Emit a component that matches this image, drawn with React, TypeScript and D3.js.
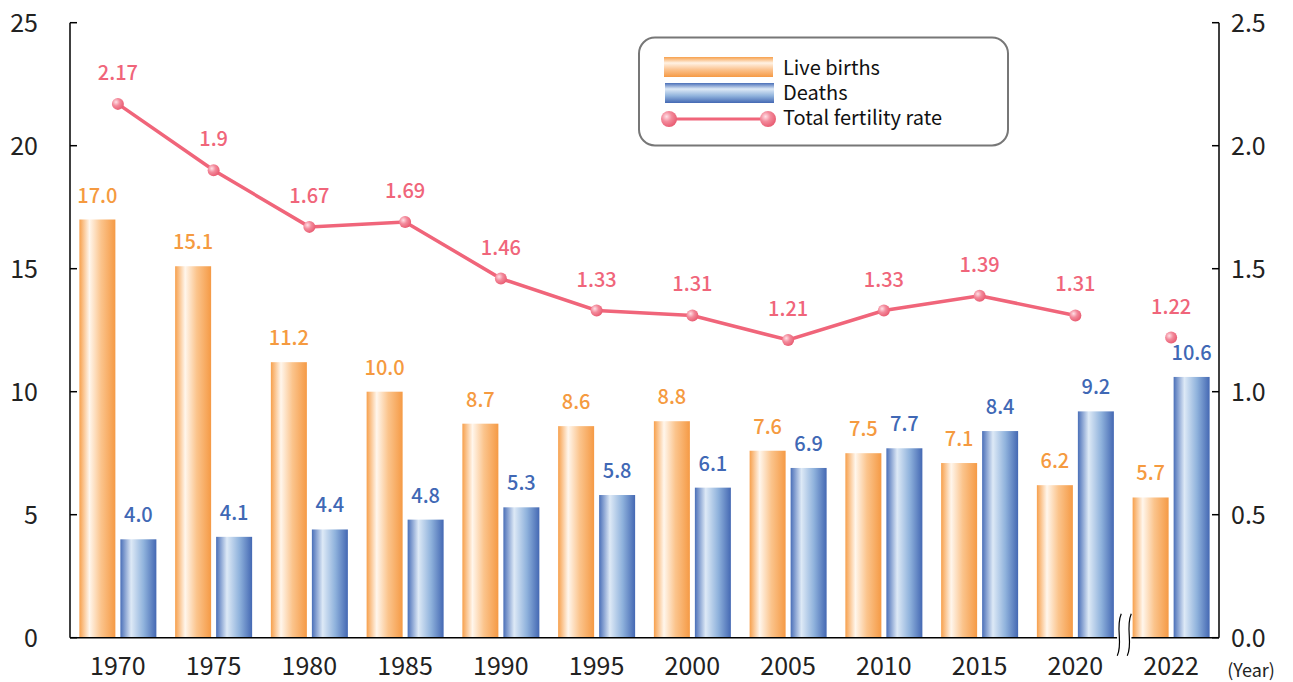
import React from "react";
import * as d3 from "d3";

const years = ["1970","1975","1980","1985","1990","1995","2000","2005","2010","2015","2020","2022"];
const liveBirths = [17.0,15.1,11.2,10.0,8.7,8.6,8.8,7.6,7.5,7.1,6.2,5.7];
const deaths = [4.0,4.1,4.4,4.8,5.3,5.8,6.1,6.9,7.7,8.4,9.2,10.6];
const fertility = [2.17,1.9,1.67,1.69,1.46,1.33,1.31,1.21,1.33,1.39,1.31,1.22];
const fertilityLabels = ["2.17","1.9","1.67","1.69","1.46","1.33","1.31","1.21","1.33","1.39","1.31","1.22"];
const leftTicks = [0,5,10,15,20,25];
const rightTicks = [0,0.5,1,1.5,2,2.5];
const legendItems = ["Live births","Deaths","Total fertility rate"];

const W = 1293, H = 682;
const L = 70, R = 1219, T = 22.7, B = 637.7;
const FONT = "'Noto Sans CJK JP', 'Noto Sans', sans-serif";
const ORANGE = "#f59a40";
const BLUE = "#4068b5";
const PINK = "#f0657a";

export default function App() {
  const x = d3.scaleBand<string>().domain(years).range([L, R]).paddingInner(0).paddingOuter(0);
  const yL = d3.scaleLinear().domain([0, 25]).range([B, T]);
  const yR = d3.scaleLinear().domain([0, 2.5]).range([B, T]);
  const barW = 36, gap = 5;
  const cx = (y: string) => (x(y) as number) + x.bandwidth() / 2;
  const connected = fertility.slice(0, 11);
  const line = d3.line<number>().x((_, i) => cx(years[i])).y(d => yR(d));
  const breakX = (cx("2020") + cx("2022")) / 2;

  const wave = (x0: number) => {
    const p = d3.path();
    p.moveTo(x0 + 2, B - 24);
    p.bezierCurveTo(x0 - 4, B - 10, x0 + 4, B + 6, x0 - 2, B + 18);
    return p.toString();
  };

  return (
    <svg width={W} height={H} style={{ position: "absolute", left: 0, top: 0, background: "#fff" }} fontFamily={FONT}>
      <defs>
        <linearGradient id="gOrange" x1="0" x2="1" y1="0" y2="0">
          <stop offset="0" stopColor="#f7a04c" />
          <stop offset="0.28" stopColor="#fff6ec" />
          <stop offset="0.6" stopColor="#fbc48c" />
          <stop offset="1" stopColor="#f59a45" />
        </linearGradient>
        <linearGradient id="gBlue" x1="0" x2="1" y1="0" y2="0">
          <stop offset="0" stopColor="#4a6fb8" />
          <stop offset="0.3" stopColor="#dde9f6" />
          <stop offset="0.65" stopColor="#8fb2dc" />
          <stop offset="1" stopColor="#4468b3" />
        </linearGradient>
        <linearGradient id="gOrangeV" x1="0" x2="0" y1="0" y2="1">
          <stop offset="0" stopColor="#f7a04c" />
          <stop offset="0.3" stopColor="#fff2e4" />
          <stop offset="0.65" stopColor="#fbc08a" />
          <stop offset="1" stopColor="#f59a45" />
        </linearGradient>
        <linearGradient id="gBlueV" x1="0" x2="0" y1="0" y2="1">
          <stop offset="0" stopColor="#4a6fb8" />
          <stop offset="0.3" stopColor="#dde9f6" />
          <stop offset="0.65" stopColor="#8fb2dc" />
          <stop offset="1" stopColor="#4468b3" />
        </linearGradient>
        <radialGradient id="gDot" cx="0.35" cy="0.35" r="0.7">
          <stop offset="0" stopColor="#ffe0e6" />
          <stop offset="0.45" stopColor="#f38a9b" />
          <stop offset="1" stopColor="#e85a70" />
        </radialGradient>
      </defs>

      {/* bars */}
      {years.map((yr, i) => {
        const c = cx(yr);
        return (
          <g key={yr}>
            <rect x={c - gap / 2 - barW} y={yL(liveBirths[i])} width={barW} height={B - yL(liveBirths[i])} fill="url(#gOrange)" />
            <rect x={c + gap / 2} y={yL(deaths[i])} width={barW} height={B - yL(deaths[i])} fill="url(#gBlue)" />
            <text x={c - gap / 2 - barW / 2} y={yL(liveBirths[i]) - 17} textAnchor="middle" fontSize={20} fontWeight={500} fill={ORANGE}>{liveBirths[i].toFixed(1)}</text>
            <text x={c + gap / 2 + barW / 2} y={yL(deaths[i]) - 17} textAnchor="middle" fontSize={20} fontWeight={500} fill={BLUE}>{deaths[i].toFixed(1)}</text>
          </g>
        );
      })}

      {/* axes */}
      <line x1={L} x2={L} y1={T} y2={B} stroke="#000" strokeWidth={1.5} />
      <line x1={R} x2={R} y1={T} y2={B} stroke="#000" strokeWidth={1.5} />
      <line x1={L} x2={breakX - 6} y1={B} y2={B} stroke="#000" strokeWidth={1.5} />
      <line x1={breakX + 8} x2={R} y1={B} y2={B} stroke="#000" strokeWidth={1.5} />
      <rect x={breakX - 6} y={B - 25} width={14} height={44} fill="#fff" />
      <path d={wave(breakX - 4)} fill="none" stroke="#000" strokeWidth={1.2} />
      <path d={wave(breakX + 6)} fill="none" stroke="#000" strokeWidth={1.2} />

      {leftTicks.map(t => (
        <g key={"l" + t}>
          <line x1={L} x2={L + 7} y1={yL(t)} y2={yL(t)} stroke="#000" strokeWidth={1.5} />
          <text x={L - 32} y={yL(t) + 9} textAnchor="end" fontSize={25} fill="#222">{t}</text>
        </g>
      ))}
      {rightTicks.map(t => (
        <g key={"r" + t}>
          <line x1={R - 7} x2={R} y1={yR(t)} y2={yR(t)} stroke="#000" strokeWidth={1.5} />
          <text x={R + 12} y={yR(t) + 9} textAnchor="start" fontSize={25} fill="#222">{t.toFixed(1)}</text>
        </g>
      ))}
      {years.map(yr => (
        <text key={"x" + yr} x={cx(yr)} y={675} textAnchor="middle" fontSize={25} fill="#222">{yr}</text>
      ))}
      <text x={1251} y={677} textAnchor="middle" fontSize={18} fill="#222">(Year)</text>

      {/* fertility line */}
      <path d={line(connected) || ""} fill="none" stroke={PINK} strokeWidth={3.5} />
      {fertility.map((v, i) => (
        <g key={"f" + i}>
          <circle cx={cx(years[i])} cy={yR(v)} r={6} fill="url(#gDot)" />
          <text x={cx(years[i])} y={yR(v) - 24} textAnchor="middle" fontSize={20} fontWeight={500} fill={PINK}>{fertilityLabels[i]}</text>
        </g>
      ))}

      {/* legend */}
      <rect x={639} y={37.5} width={369} height={108} rx={16} ry={16} fill="#fff" stroke="#777" strokeWidth={2} />
      <rect x={664} y={57} width={109} height={20} fill="url(#gOrangeV)" />
      <rect x={665} y={83} width={109} height={20} fill="url(#gBlueV)" />
      <line x1={669} x2={768} y1={119} y2={119} stroke={PINK} strokeWidth={3} />
      <circle cx={669} cy={119} r={8} fill="url(#gDot)" />
      <circle cx={768} cy={119} r={8} fill="url(#gDot)" />
      {legendItems.map((t, i) => (
        <text key={t} x={783} y={75 + i * 25} fontSize={20} fill="#111">{t}</text>
      ))}
    </svg>
  );
}
